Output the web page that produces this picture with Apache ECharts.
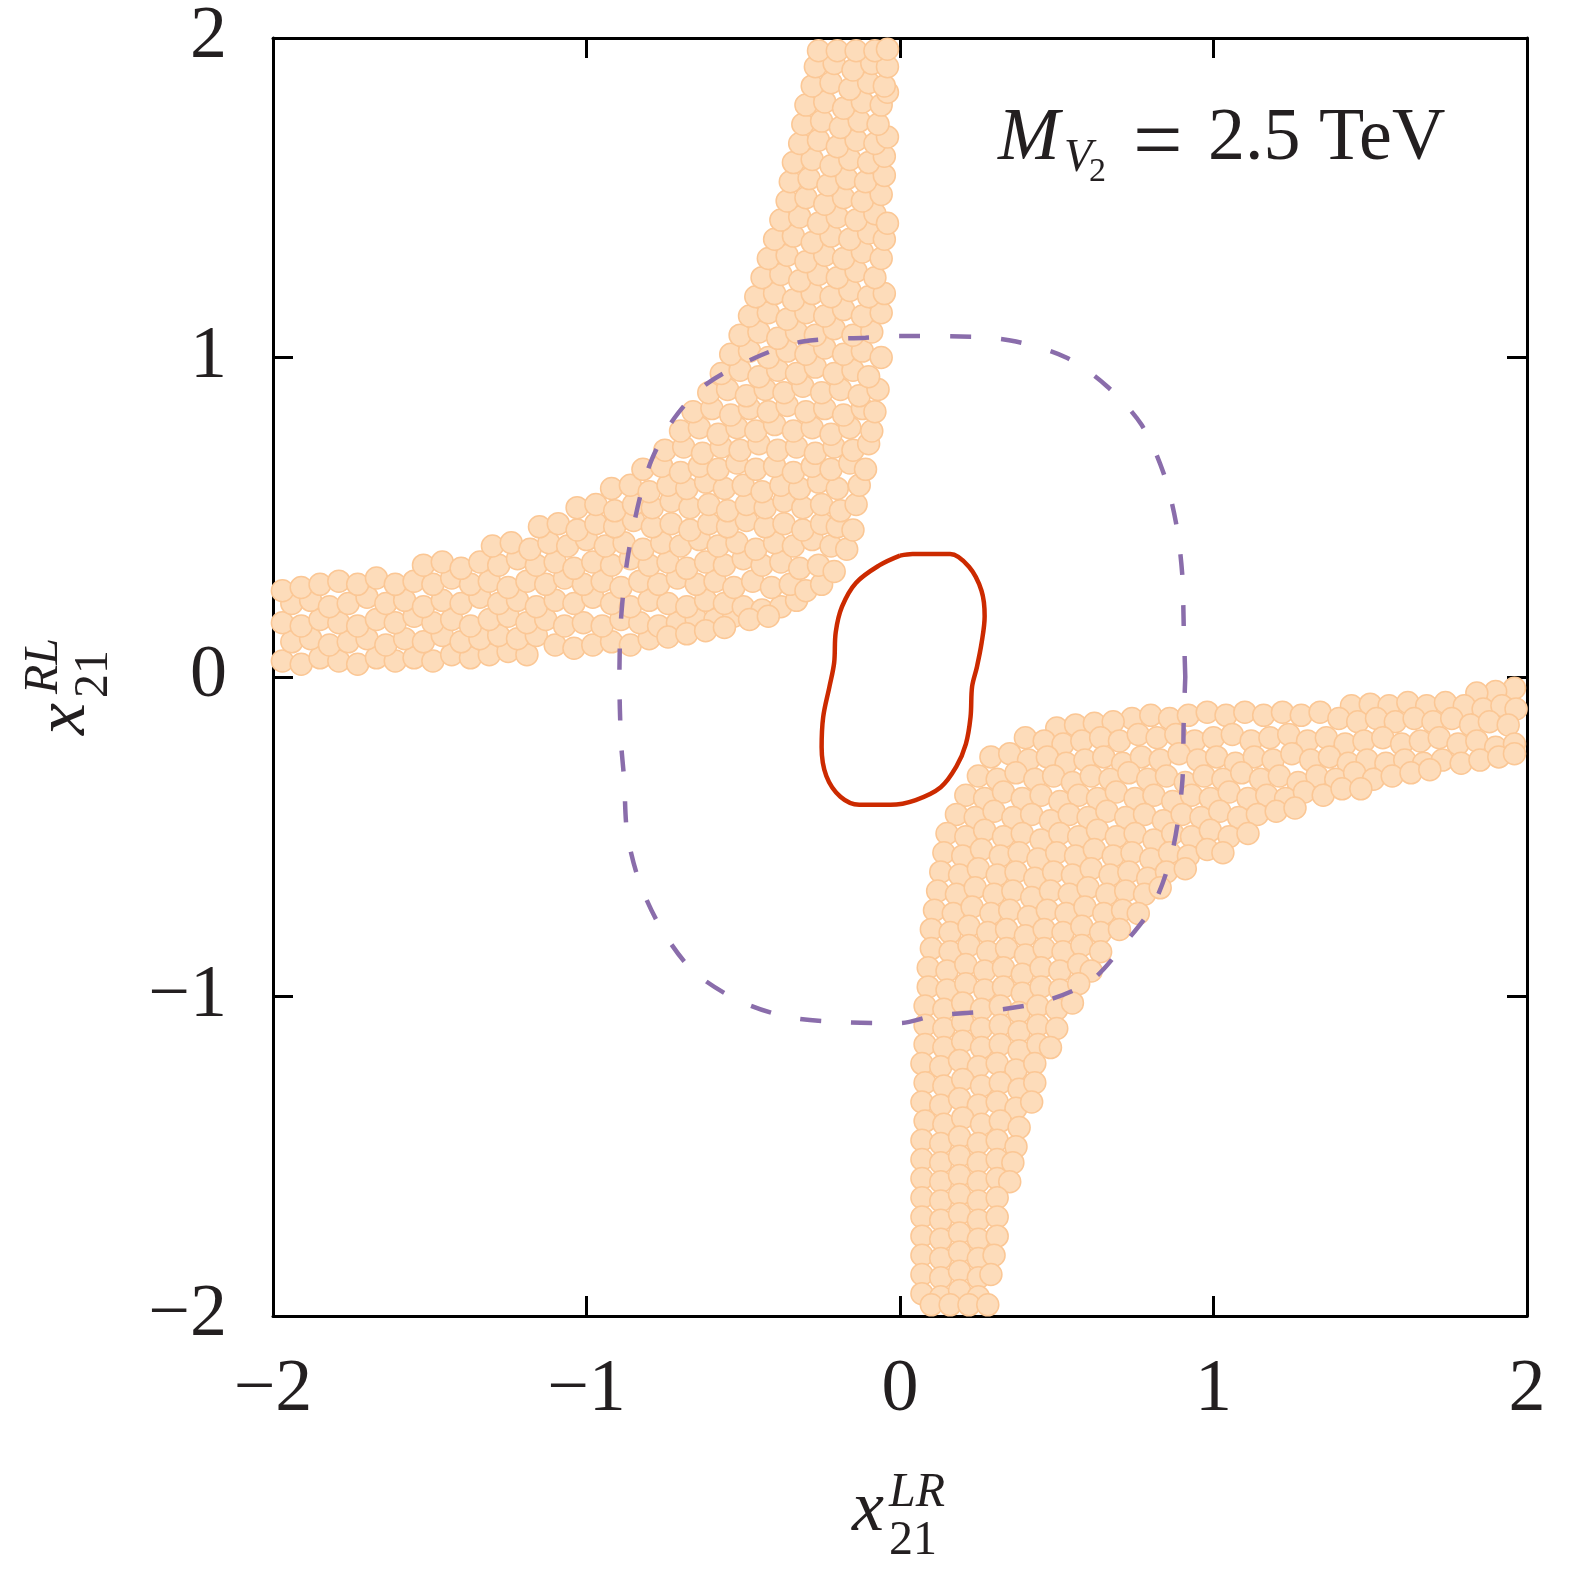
<!DOCTYPE html>
<html lang="en">
<head>
    <meta charset="UTF-8">
    <title>x21 LR vs RL</title>
    <script type="text/javascript" src="https://cdn.jsdelivr.net/npm/echarts@6/dist/echarts.min.js"></script>
    <style>
        html, body { margin: 0; padding: 0; background: #fff; }
        #main { width: 1574px; height: 1574px; }
    </style>
</head>
<body>
<div id="main"></div>

<script>
    // axis ticks
    var tickValues = [-2, -1, 0, 1, 2];
    var tickLabels = ['\u22122', '\u22121', '0', '1', '2'];

    // allowed points, upper-left band
    var bandUpperLeft = [
        [-1.97,0.05],[-1.91,0.04],[-1.85,0.06],[-1.79,0.05],[-1.73,0.04],[-1.67,0.06],[-1.61,0.05],[-1.55,0.06],[-1.49,0.05],[-1.43,0.07],[-1.37,0.06],[-1.31,0.07],[-1.25,0.08],[-1.19,0.07],
        [-1.94,0.11],[-1.88,0.12],[-1.82,0.10],[-1.76,0.11],[-1.70,0.12],[-1.64,0.10],[-1.58,0.12],[-1.52,0.11],[-1.46,0.13],[-1.40,0.11],[-1.34,0.12],[-1.28,0.13],[-1.22,0.12],[-1.16,0.13],[-1.10,0.10],[-1.04,0.09],[-0.98,0.10],[-0.92,0.11],[-0.86,0.10],[-0.80,0.12],
        [-1.97,0.17],[-1.91,0.16],[-1.85,0.18],[-1.79,0.17],[-1.73,0.16],[-1.67,0.18],[-1.61,0.17],[-1.55,0.19],[-1.49,0.17],[-1.43,0.18],[-1.37,0.16],[-1.31,0.18],[-1.25,0.19],[-1.19,0.17],[-1.13,0.18],[-1.07,0.16],[-1.01,0.17],[-0.95,0.16],[-0.89,0.18],[-0.83,0.17],[-0.77,0.16],[-0.71,0.17],[-0.65,0.18],[-0.59,0.18],[-0.53,0.19],
        [-0.74,0.125],[-0.68,0.135],[-0.62,0.145],[-0.56,0.155],
        [-1.94,0.23],[-1.88,0.24],[-1.82,0.22],[-1.76,0.23],[-1.70,0.25],[-1.64,0.23],[-1.58,0.24],[-1.52,0.22],[-1.46,0.24],[-1.40,0.23],[-1.34,0.25],[-1.28,0.23],[-1.22,0.24],[-1.16,0.22],[-1.10,0.24],[-1.04,0.23],[-0.98,0.25],[-0.92,0.23],[-0.86,0.22],[-0.80,0.24],[-0.74,0.23],[-0.68,0.22],[-0.62,0.24],[-0.56,0.23],[-0.50,0.22],[-0.44,0.21],[-0.38,0.22],[-0.33,0.24],
        [-0.48,0.18],[-0.42,0.19],
        [-1.97,0.27],[-1.91,0.28],[-1.85,0.29],[-1.79,0.30],[-1.73,0.29],[-1.67,0.31],[-1.61,0.29],[-1.55,0.30],[-1.49,0.29],[-1.43,0.31],[-1.37,0.29],[-1.31,0.30],[-1.25,0.28],[-1.19,0.30],[-1.13,0.29],[-1.07,0.31],[-1.01,0.29],[-0.95,0.30],[-0.89,0.28],[-0.83,0.30],[-0.77,0.29],[-0.71,0.31],[-0.65,0.29],[-0.59,0.30],[-0.53,0.28],[-0.47,0.30],[-0.41,0.28],[-0.35,0.29],[-0.30,0.27],[-0.25,0.29],
        [-1.52,0.35],[-1.46,0.36],[-1.40,0.34],[-1.34,0.36],[-1.28,0.35],[-1.22,0.37],[-1.16,0.35],[-1.10,0.36],[-1.04,0.34],[-0.98,0.36],[-0.92,0.35],[-0.86,0.37],[-0.80,0.35],[-0.74,0.36],[-0.68,0.34],[-0.62,0.36],[-0.56,0.35],[-0.50,0.37],[-0.44,0.35],[-0.38,0.36],[-0.32,0.34],[-0.26,0.35],[-0.21,0.33],
        [-1.30,0.41],[-1.24,0.42],[-1.18,0.40],[-1.12,0.42],[-1.06,0.41],[-1.00,0.43],[-0.94,0.41],[-0.88,0.42],[-0.82,0.40],[-0.76,0.42],[-0.70,0.41],[-0.64,0.43],[-0.58,0.41],[-0.52,0.42],[-0.46,0.40],[-0.40,0.42],[-0.34,0.41],[-0.28,0.43],[-0.22,0.41],[-0.17,0.40],
        [-1.15,0.47],[-1.09,0.48],[-1.03,0.46],[-0.97,0.48],[-0.91,0.47],[-0.85,0.49],[-0.79,0.47],[-0.73,0.48],[-0.67,0.46],[-0.61,0.48],[-0.55,0.47],[-0.49,0.49],[-0.43,0.47],[-0.37,0.48],[-0.31,0.46],[-0.25,0.48],[-0.20,0.47],[-0.15,0.46],
        [-1.03,0.53],[-0.97,0.54],[-0.91,0.52],[-0.85,0.54],[-0.79,0.53],[-0.73,0.55],[-0.67,0.53],[-0.61,0.54],[-0.55,0.52],[-0.49,0.54],[-0.43,0.53],[-0.37,0.55],[-0.31,0.53],[-0.25,0.54],[-0.19,0.52],[-0.14,0.54],
        [-0.92,0.59],[-0.86,0.60],[-0.80,0.58],[-0.74,0.60],[-0.68,0.59],[-0.62,0.61],[-0.56,0.59],[-0.50,0.60],[-0.44,0.58],[-0.38,0.60],[-0.32,0.59],[-0.26,0.61],[-0.20,0.59],[-0.13,0.60],
        [-0.82,0.65],[-0.76,0.66],[-0.70,0.64],[-0.64,0.66],[-0.58,0.65],[-0.52,0.67],[-0.46,0.65],[-0.40,0.66],[-0.34,0.64],[-0.28,0.66],[-0.22,0.65],[-0.16,0.67],[-0.11,0.65],
        [-0.75,0.71],[-0.69,0.72],[-0.63,0.70],[-0.57,0.72],[-0.51,0.71],[-0.45,0.73],[-0.39,0.71],[-0.33,0.72],[-0.27,0.70],[-0.21,0.72],[-0.15,0.71],[-0.10,0.73],
        [-0.70,0.77],[-0.64,0.78],[-0.58,0.76],[-0.52,0.78],[-0.46,0.77],[-0.40,0.79],[-0.34,0.77],[-0.28,0.78],[-0.22,0.76],[-0.16,0.78],[-0.09,0.77],
        [-0.66,0.83],[-0.60,0.84],[-0.54,0.82],[-0.48,0.84],[-0.42,0.83],[-0.36,0.85],[-0.30,0.83],[-0.24,0.84],[-0.18,0.82],[-0.12,0.84],[-0.08,0.83],
        [-0.61,0.89],[-0.55,0.90],[-0.49,0.88],[-0.43,0.90],[-0.37,0.89],[-0.31,0.91],[-0.25,0.89],[-0.19,0.90],[-0.13,0.88],[-0.07,0.90],
        [-0.57,0.95],[-0.51,0.96],[-0.45,0.94],[-0.39,0.96],[-0.33,0.95],[-0.27,0.97],[-0.21,0.95],[-0.15,0.96],[-0.10,0.94],
        [-0.54,1.01],[-0.48,1.02],[-0.42,1.00],[-0.36,1.02],[-0.30,1.01],[-0.24,1.03],[-0.18,1.01],[-0.12,1.02],[-0.06,1.00],
        [-0.51,1.07],[-0.45,1.08],[-0.39,1.06],[-0.33,1.08],[-0.27,1.07],[-0.21,1.09],[-0.15,1.07],[-0.09,1.08],
        [-0.48,1.13],[-0.42,1.14],[-0.36,1.12],[-0.30,1.14],[-0.24,1.13],[-0.18,1.15],[-0.12,1.13],[-0.06,1.14],
        [-0.46,1.19],[-0.40,1.20],[-0.34,1.18],[-0.28,1.20],[-0.22,1.19],[-0.16,1.21],[-0.10,1.19],[-0.05,1.20],
        [-0.44,1.25],[-0.38,1.26],[-0.32,1.24],[-0.26,1.26],[-0.20,1.25],[-0.14,1.27],[-0.08,1.25],
        [-0.42,1.31],[-0.36,1.32],[-0.30,1.30],[-0.24,1.32],[-0.18,1.31],[-0.12,1.33],[-0.06,1.31],
        [-0.40,1.37],[-0.34,1.38],[-0.28,1.36],[-0.22,1.38],[-0.16,1.37],[-0.10,1.39],[-0.05,1.37],
        [-0.38,1.43],[-0.32,1.44],[-0.26,1.42],[-0.20,1.44],[-0.14,1.43],[-0.08,1.45],[-0.04,1.42],
        [-0.36,1.49],[-0.30,1.50],[-0.24,1.48],[-0.18,1.50],[-0.12,1.49],[-0.06,1.51],
        [-0.35,1.55],[-0.29,1.56],[-0.23,1.54],[-0.17,1.56],[-0.11,1.55],[-0.05,1.57],
        [-0.34,1.61],[-0.28,1.62],[-0.22,1.60],[-0.16,1.62],[-0.10,1.61],[-0.05,1.63],
        [-0.32,1.67],[-0.26,1.68],[-0.20,1.66],[-0.14,1.68],[-0.08,1.67],[-0.04,1.69],
        [-0.31,1.73],[-0.25,1.74],[-0.19,1.72],[-0.13,1.74],[-0.07,1.73],
        [-0.30,1.79],[-0.24,1.80],[-0.18,1.78],[-0.12,1.80],[-0.06,1.79],[-0.04,1.83],
        [-0.28,1.85],[-0.22,1.86],[-0.16,1.84],[-0.10,1.86],[-0.05,1.85],
        [-0.27,1.91],[-0.21,1.92],[-0.15,1.90],[-0.09,1.92],[-0.04,1.91],
        [-0.26,1.96],[-0.20,1.96],[-0.14,1.96],[-0.08,1.96],[-0.04,1.965]
    ];

    // allowed points, lower-right band
    var bandLowerRight = [
        [1.96,-0.035],[1.90,-0.045],[1.84,-0.05],
        [1.44,-0.09],[1.50,-0.085],[1.56,-0.09],[1.62,-0.08],[1.68,-0.09],[1.74,-0.08],[1.80,-0.09],[1.86,-0.10],[1.92,-0.09],[1.965,-0.10],
        [0.74,-0.13],[0.80,-0.12],[0.86,-0.13],[0.92,-0.12],[0.98,-0.11],[1.04,-0.12],[1.10,-0.11],[1.16,-0.12],[1.22,-0.11],[1.28,-0.12],[1.34,-0.11],[1.40,-0.13],[1.46,-0.14],[1.52,-0.13],[1.58,-0.14],[1.64,-0.13],[1.70,-0.14],[1.76,-0.13],[1.82,-0.15],[1.88,-0.14],[1.94,-0.15],
        [0.50,-0.16],[0.56,-0.15],[0.62,-0.145],[0.68,-0.14],
        [0.40,-0.19],[0.46,-0.20],[0.52,-0.21],[0.58,-0.20],[0.64,-0.19],[0.70,-0.20],[0.76,-0.18],[0.82,-0.19],[0.88,-0.18],[0.94,-0.20],[1.00,-0.19],[1.06,-0.18],[1.12,-0.20],[1.18,-0.19],[1.24,-0.18],[1.30,-0.20],[1.36,-0.19],[1.42,-0.21],[1.48,-0.20],[1.54,-0.19],[1.60,-0.21],[1.66,-0.20],[1.72,-0.19],[1.78,-0.21],[1.84,-0.20],[1.90,-0.22],[1.96,-0.21],
        [0.29,-0.25],[0.35,-0.24],[0.41,-0.26],[0.47,-0.25],[0.53,-0.27],[0.59,-0.26],[0.65,-0.25],[0.71,-0.27],[0.77,-0.25],[0.83,-0.26],[0.89,-0.24],[0.95,-0.26],[1.01,-0.25],[1.07,-0.27],[1.13,-0.25],[1.19,-0.26],[1.25,-0.24],[1.31,-0.26],[1.37,-0.25],[1.43,-0.27],[1.49,-0.26],[1.55,-0.27],[1.61,-0.26],[1.67,-0.27],[1.73,-0.26],[1.79,-0.27],[1.85,-0.26],[1.91,-0.25],[1.96,-0.24],
        [0.25,-0.31],[0.31,-0.32],[0.37,-0.30],[0.43,-0.32],[0.49,-0.31],[0.55,-0.33],[0.61,-0.31],[0.67,-0.32],[0.73,-0.30],[0.79,-0.32],[0.85,-0.31],[0.91,-0.33],[0.97,-0.31],[1.03,-0.32],[1.09,-0.30],[1.15,-0.32],[1.21,-0.31],[1.27,-0.33],[1.33,-0.31],[1.39,-0.32],[1.45,-0.30],[1.51,-0.32],[1.57,-0.31],[1.63,-0.30],[1.69,-0.29],
        [0.21,-0.37],[0.27,-0.38],[0.33,-0.36],[0.39,-0.38],[0.45,-0.37],[0.51,-0.39],[0.57,-0.37],[0.63,-0.38],[0.69,-0.36],[0.75,-0.38],[0.81,-0.37],[0.87,-0.39],[0.93,-0.37],[0.99,-0.38],[1.05,-0.36],[1.11,-0.38],[1.17,-0.37],[1.23,-0.38],[1.29,-0.36],[1.35,-0.37],[1.41,-0.35],[1.47,-0.35],
        [0.18,-0.43],[0.24,-0.44],[0.30,-0.42],[0.36,-0.44],[0.42,-0.43],[0.48,-0.45],[0.54,-0.43],[0.60,-0.44],[0.66,-0.42],[0.72,-0.44],[0.78,-0.43],[0.84,-0.45],[0.90,-0.43],[0.96,-0.44],[1.02,-0.42],[1.08,-0.44],[1.14,-0.43],[1.20,-0.42],[1.26,-0.41],
        [0.15,-0.49],[0.21,-0.50],[0.27,-0.48],[0.33,-0.50],[0.39,-0.49],[0.45,-0.51],[0.51,-0.49],[0.57,-0.50],[0.63,-0.48],[0.69,-0.50],[0.75,-0.49],[0.81,-0.51],[0.87,-0.49],[0.93,-0.50],[0.99,-0.48],[1.05,-0.50],[1.11,-0.49],
        [0.14,-0.55],[0.20,-0.56],[0.26,-0.54],[0.32,-0.56],[0.38,-0.55],[0.44,-0.57],[0.50,-0.55],[0.56,-0.56],[0.62,-0.54],[0.68,-0.56],[0.74,-0.55],[0.80,-0.57],[0.86,-0.55],[0.92,-0.56],[0.98,-0.54],[1.03,-0.55],
        [0.13,-0.61],[0.19,-0.62],[0.25,-0.60],[0.31,-0.62],[0.37,-0.61],[0.43,-0.63],[0.49,-0.61],[0.55,-0.62],[0.61,-0.60],[0.67,-0.62],[0.73,-0.61],[0.79,-0.63],[0.85,-0.61],[0.91,-0.60],
        [0.12,-0.67],[0.18,-0.68],[0.24,-0.66],[0.30,-0.68],[0.36,-0.67],[0.42,-0.69],[0.48,-0.67],[0.54,-0.68],[0.60,-0.66],[0.66,-0.68],[0.72,-0.67],[0.78,-0.68],[0.83,-0.66],
        [0.11,-0.73],[0.17,-0.74],[0.23,-0.72],[0.29,-0.74],[0.35,-0.73],[0.41,-0.75],[0.47,-0.73],[0.53,-0.74],[0.59,-0.72],[0.65,-0.74],[0.71,-0.73],[0.76,-0.74],
        [0.10,-0.79],[0.16,-0.80],[0.22,-0.78],[0.28,-0.80],[0.34,-0.79],[0.40,-0.81],[0.46,-0.79],[0.52,-0.80],[0.58,-0.78],[0.64,-0.80],[0.70,-0.79],
        [0.10,-0.85],[0.16,-0.86],[0.22,-0.84],[0.28,-0.86],[0.34,-0.85],[0.40,-0.87],[0.46,-0.85],[0.52,-0.86],[0.58,-0.84],[0.64,-0.86],
        [0.09,-0.91],[0.15,-0.92],[0.21,-0.90],[0.27,-0.92],[0.33,-0.91],[0.39,-0.93],[0.45,-0.91],[0.51,-0.92],[0.57,-0.90],[0.61,-0.92],
        [0.09,-0.97],[0.15,-0.98],[0.21,-0.96],[0.27,-0.98],[0.33,-0.97],[0.39,-0.99],[0.45,-0.97],[0.51,-0.98],[0.57,-0.96],
        [0.08,-1.03],[0.14,-1.04],[0.20,-1.02],[0.26,-1.04],[0.32,-1.03],[0.38,-1.05],[0.44,-1.03],[0.50,-1.04],[0.55,-1.02],
        [0.08,-1.09],[0.14,-1.10],[0.20,-1.08],[0.26,-1.10],[0.32,-1.09],[0.38,-1.11],[0.44,-1.09],[0.50,-1.10],
        [0.08,-1.15],[0.14,-1.16],[0.20,-1.14],[0.26,-1.16],[0.32,-1.15],[0.38,-1.17],[0.44,-1.15],[0.48,-1.16],
        [0.07,-1.21],[0.13,-1.22],[0.19,-1.20],[0.25,-1.22],[0.31,-1.21],[0.37,-1.23],[0.43,-1.21],
        [0.08,-1.27],[0.14,-1.28],[0.20,-1.26],[0.26,-1.28],[0.32,-1.27],[0.38,-1.29],[0.43,-1.27],
        [0.07,-1.33],[0.13,-1.34],[0.19,-1.32],[0.25,-1.34],[0.31,-1.33],[0.37,-1.35],[0.42,-1.33],
        [0.08,-1.39],[0.14,-1.40],[0.20,-1.38],[0.26,-1.40],[0.32,-1.39],[0.38,-1.41],
        [0.07,-1.45],[0.13,-1.46],[0.19,-1.44],[0.25,-1.46],[0.31,-1.45],[0.37,-1.47],
        [0.07,-1.51],[0.13,-1.52],[0.19,-1.50],[0.25,-1.52],[0.31,-1.51],[0.36,-1.52],
        [0.07,-1.57],[0.13,-1.58],[0.19,-1.56],[0.25,-1.58],[0.31,-1.57],[0.35,-1.58],
        [0.07,-1.63],[0.13,-1.64],[0.19,-1.62],[0.25,-1.64],[0.31,-1.63],
        [0.07,-1.69],[0.13,-1.70],[0.19,-1.68],[0.25,-1.70],[0.31,-1.69],
        [0.07,-1.75],[0.13,-1.76],[0.19,-1.74],[0.25,-1.76],[0.31,-1.75],
        [0.07,-1.81],[0.13,-1.82],[0.19,-1.80],[0.25,-1.82],[0.30,-1.81],
        [0.07,-1.87],[0.13,-1.88],[0.19,-1.86],[0.25,-1.88],[0.29,-1.87],
        [0.07,-1.93],[0.13,-1.94],[0.19,-1.92],[0.25,-1.94],
        [0.10,-1.965],[0.16,-1.965],[0.22,-1.965],[0.28,-1.965]
    ];

    // red solid contour
    var contourRed = [
        [0.00,0.38],[0.04,0.385],[0.16,0.385],[0.22,0.345],[0.26,0.27],[0.27,0.19],[0.26,0.105],[0.245,0.03],
        [0.23,-0.03],[0.225,-0.125],[0.21,-0.21],[0.18,-0.28],[0.13,-0.345],[0.05,-0.385],[-0.03,-0.40],[-0.13,-0.40],
        [-0.19,-0.375],[-0.235,-0.31],[-0.25,-0.22],[-0.245,-0.125],[-0.225,-0.03],[-0.21,0.045],[-0.205,0.14],
        [-0.185,0.22],[-0.14,0.295],[-0.065,0.35],[0.00,0.38]
    ];

    // purple dashed contour
    var contourPurple = [
        [0.91,0.00],[0.905,0.16],[0.90,0.325],[0.88,0.485],[0.84,0.64],[0.77,0.79],[0.66,0.91],[0.53,1.00],
        [0.37,1.05],[0.23,1.065],[0.00,1.067],[-0.11,1.062],[-0.31,1.05],[-0.46,1.00],[-0.62,0.915],[-0.72,0.81],
        [-0.79,0.685],[-0.83,0.56],[-0.87,0.365],[-0.89,0.18],[-0.895,0.00],[-0.89,-0.20],[-0.88,-0.32],[-0.87,-0.49],
        [-0.83,-0.645],[-0.76,-0.79],[-0.66,-0.92],[-0.52,-1.01],[-0.36,-1.064],[-0.19,-1.08],[0.00,-1.083],[0.11,-1.06],
        [0.29,-1.045],[0.46,-1.015],[0.61,-0.95],[0.72,-0.83],[0.81,-0.71],[0.87,-0.54],[0.90,-0.335],[0.905,-0.14],[0.91,0.00]
    ];
</script>

<script>
    var serif = "'Liberation Serif', 'DejaVu Serif', serif";
    var ink = '#231f20';

    function tickText(v) {
        var i = tickValues.indexOf(v);
        return i >= 0 ? tickLabels[i] : '';
    }

    function axisCommon(pos, showLabel) {
        return {
            type: 'value',
            position: pos,
            min: tickValues[0],
            max: tickValues[tickValues.length - 1],
            interval: 1,
            splitLine: {show: false},
            axisLine: {show: true, onZero: false, lineStyle: {color: '#000', width: 3}},
            axisTick: {show: true, inside: true, length: 20, lineStyle: {color: '#000', width: 3}},
            axisLabel: {
                show: showLabel,
                formatter: tickText,
                fontFamily: serif,
                fontSize: 74,
                color: ink,
                margin: pos === 'bottom' ? 38 : 46
            }
        };
    }

    function txt(x, y, s, size, italic, rot) {
        return {
            type: 'text',
            x: x,
            y: y,
            rotation: rot || 0,
            silent: true,
            style: {
                text: s,
                fill: ink,
                font: (italic ? 'italic ' : '') + size + 'px ' + serif,
                align: 'left',
                verticalAlign: 'middle',
                textAlign: 'left',
                textVerticalAlign: 'middle'
            }
        };
    }

    var myChart = echarts.init(document.getElementById('main'));
    myChart.setOption({
        animation: false,
        backgroundColor: '#fff',
        grid: {left: 273, right: 47, top: 38, bottom: 258, containLabel: false},
        xAxis: [axisCommon('bottom', true), axisCommon('top', false)],
        yAxis: [axisCommon('left', true), axisCommon('right', false)],
        graphic: [
            // x axis name
            txt(852, 1511, 'x', 72, true),
            txt(889, 1493, 'LR', 48, true),
            txt(889, 1541, '21', 48, false),
            // y axis name, rotated
            txt(65, 735, 'x', 72, true, Math.PI / 2),
            txt(44, 694, 'RL', 48, true, Math.PI / 2),
            txt(94, 698, '21', 48, false, Math.PI / 2),
            // mass label
            txt(998, 140, 'M', 74, true),
            txt(1064, 159, 'V', 46, true),
            txt(1089, 172, '2', 34, false),
            txt(1133, 146, '=', 88, false),
            txt(1208, 140, '2.5 TeV', 74, false)
        ],
        series: [
            {
                name: 'upper band',
                type: 'scatter',
                data: bandUpperLeft,
                symbol: 'circle',
                symbolSize: 22,
                silent: true,
                itemStyle: {color: '#fddcba', borderColor: '#fbc795', borderWidth: 1.5, opacity: 1}
            },
            {
                name: 'lower band',
                type: 'scatter',
                data: bandLowerRight,
                symbol: 'circle',
                symbolSize: 22,
                silent: true,
                itemStyle: {color: '#fddcba', borderColor: '#fbc795', borderWidth: 1.5, opacity: 1}
            },
            {
                name: 'dashed',
                type: 'line',
                data: contourPurple,
                showSymbol: false,
                symbol: 'none',
                smooth: 0.3,
                silent: true,
                lineStyle: {color: '#8a6dab', width: 4.5, type: [21, 30]},
                z: 5
            },
            {
                name: 'solid',
                type: 'line',
                data: contourRed,
                showSymbol: false,
                symbol: 'none',
                smooth: 0.35,
                silent: true,
                lineStyle: {color: '#cc2a00', width: 4.5},
                z: 6
            }
        ]
    });
</script>

</body>
</html>
